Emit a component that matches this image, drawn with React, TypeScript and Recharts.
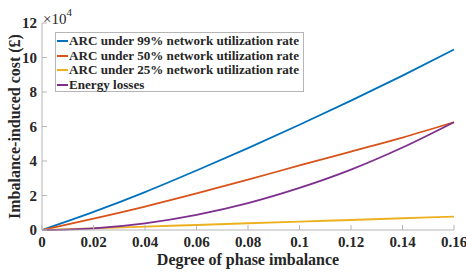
import { CartesianGrid, Label, Line, LineChart, XAxis, YAxis } from 'recharts';

// Degree of phase imbalance (x axis)
const imbalance = [0, 0.02, 0.04, 0.06, 0.08, 0.1, 0.12, 0.14, 0.16];

// Imbalance-induced cost in GBP
const arc99 = [0, 10500, 22000, 34500, 47500, 61000, 75000, 89500, 104600];
const arc50 = [0, 6600, 13600, 21200, 29200, 37400, 45500, 53600, 62500];
const arc25 = [0, 1000, 2000, 2900, 3900, 4900, 5800, 6800, 7800];
const energyLosses = [0, 1000, 3900, 8800, 15600, 24400, 35000, 47800, 62500];

const xTicks = [0, 0.02, 0.04, 0.06, 0.08, 0.1, 0.12, 0.14, 0.16];
const yTicks = [0, 20000, 40000, 60000, 80000, 100000, 120000];

const SERIES = [
  { key: 'arc99', name: 'ARC under 99% network utilization rate', color: '#0072BD' },
  { key: 'arc50', name: 'ARC under 50% network utilization rate', color: '#D95319' },
  { key: 'arc25', name: 'ARC under 25% network utilization rate', color: '#EDB120' },
  { key: 'losses', name: 'Energy losses', color: '#7E2F8E' },
];

const chartData = imbalance.map((x, i) => ({
  x,
  arc99: arc99[i],
  arc50: arc50[i],
  arc25: arc25[i],
  losses: energyLosses[i],
}));

const FONT = '"Liberation Serif", "Times New Roman", serif';
const AXIS_COLOR = '#b5b5b5';
const TEXT_COLOR = '#262626';

const labelStyle = { fontSize: 15, fontWeight: 700, fill: TEXT_COLOR, fontFamily: FONT };

type TickProps = { x?: number; y?: number; payload?: { value: number } };

function XTick({ x = 0, y = 0, payload }: TickProps) {
  return (
    <text x={x} y={y + 12} textAnchor="middle" style={labelStyle}>
      {String(payload?.value ?? '')}
    </text>
  );
}

function YTick({ x = 0, y = 0, payload }: TickProps) {
  return (
    <text x={x} y={y + 5} textAnchor="end" style={labelStyle}>
      {String((payload?.value ?? 0) / 10000)}
    </text>
  );
}

function YLabel({ viewBox }: { viewBox?: { x: number; y: number; width: number; height: number } }) {
  if (!viewBox) return null;
  const cx = 14;
  const cy = viewBox.y + viewBox.height / 2;
  return (
    <text
      x={cx}
      y={cy}
      transform={`rotate(-90 ${cx} ${cy})`}
      textAnchor="middle"
      dominantBaseline="central"
      style={{ fontSize: 16, fontWeight: 700, fill: TEXT_COLOR, fontFamily: FONT }}
    >
      Imbalance-induced cost (£)
    </text>
  );
}

export default function App() {
  return (
    <div style={{ position: 'absolute', left: 0, top: 0, width: 466, height: 273, background: '#fff', fontFamily: FONT }}>
      <LineChart width={466} height={273} data={chartData} margin={{ top: 23, right: 12, left: 0, bottom: 8 }}>
        <CartesianGrid stroke="none" fill="#fff" />
        <XAxis
          dataKey="x"
          type="number"
          domain={[0, 0.16]}
          ticks={xTicks}
          tick={<XTick />}
          tickSize={-5}
          tickMargin={10}
          height={35}
          stroke={AXIS_COLOR}
          interval={0}
        >
          <Label
            value="Degree of phase imbalance"
            position="insideBottom"
            offset={0}
            style={{ fontSize: 16, fontWeight: 700, fill: TEXT_COLOR, fontFamily: FONT }}
          />
        </XAxis>
        <XAxis
          xAxisId="top"
          orientation="top"
          type="number"
          dataKey="x"
          domain={[0, 0.16]}
          ticks={xTicks}
          tickFormatter={() => ''}
          tickSize={-5}
          height={0}
          stroke={AXIS_COLOR}
        />
        <YAxis
          type="number"
          domain={[0, 120000]}
          ticks={yTicks}
          tick={<YTick />}
          tickSize={-5}
          tickMargin={10}
          width={42}
          stroke={AXIS_COLOR}
          interval={0}
        >
          <Label content={<YLabel />} />
        </YAxis>
        <YAxis
          yAxisId="right"
          orientation="right"
          type="number"
          domain={[0, 120000]}
          ticks={yTicks}
          tickFormatter={() => ''}
          tickSize={-5}
          width={0}
          stroke={AXIS_COLOR}
        />
        {SERIES.map((s) => (
          <Line
            key={s.key}
            dataKey={s.key}
            name={s.name}
            type="monotone"
            stroke={s.color}
            strokeWidth={1.8}
            dot={false}
            isAnimationActive={false}
          />
        ))}
      </LineChart>

      {/* exponent marker */}
      <div style={{ position: 'absolute', left: 43, top: 6, fontSize: 15, color: TEXT_COLOR, lineHeight: '16px' }}>
        ×10<sup style={{ fontSize: 11, position: 'relative', top: -2 }}>4</sup>
      </div>

      {/* legend */}
      <div
        style={{
          position: 'absolute',
          left: 55,
          top: 32,
          width: 249,
          height: 60,
          border: `1px solid ${AXIS_COLOR}`,
          background: '#fff',
          paddingTop: 1,
          boxSizing: 'border-box',
        }}
      >
        {SERIES.map((s) => (
          <div key={s.key} style={{ display: 'flex', alignItems: 'center', height: 14.5 }}>
            <span
              style={{
                display: 'inline-block',
                flexShrink: 0,
                width: 11,
                height: 2,
                background: s.color,
                marginLeft: 1,
                marginRight: 1,
              }}
            />
            <span style={{ fontSize: 13.1, fontWeight: 700, color: TEXT_COLOR, whiteSpace: 'nowrap' }}>{s.name}</span>
          </div>
        ))}
      </div>
    </div>
  );
}
